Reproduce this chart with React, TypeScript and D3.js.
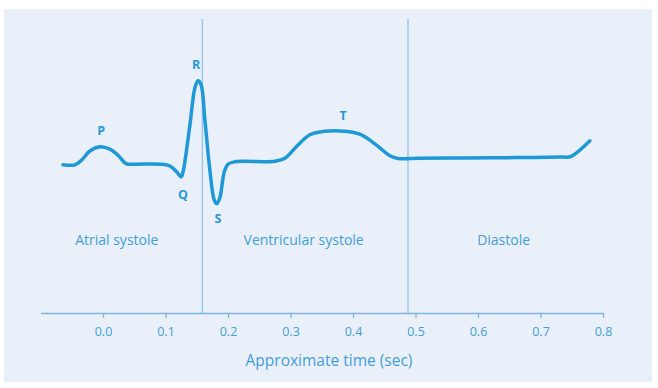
import React, { useEffect, useRef } from "react";
import * as d3 from "d3";

const W = 658;
const H = 388;

// ECG trace: time (sec) and relative amplitude
const times = [
  -0.064, -0.045, -0.034, -0.021, -0.005, 0.011, 0.024, 0.037, 0.051, 0.091,
  0.107, 0.118, 0.125, 0.128, 0.139, 0.147, 0.152, 0.157, 0.163, 0.171,
  0.178, 0.182, 0.187, 0.194, 0.2, 0.211, 0.275, 0.291, 0.312, 0.331,
  0.355, 0.387, 0.411, 0.435, 0.459, 0.472, 0.507, 0.58, 0.66, 0.735,
  0.748, 0.779,
];
const amplitudes = [
  -0.03, -0.03, 0.05, 0.2, 0.27, 0.23, 0.13, -0.01, -0.02, -0.02,
  -0.05, -0.15, -0.23, -0.15, 0.63, 1.25, 1.37, 1.3, 0.72, -0.12,
  -0.62, -0.68, -0.58, -0.15, -0.02, 0.02, 0.03, 0.08, 0.3, 0.47,
  0.53, 0.53, 0.48, 0.32, 0.12, 0.075, 0.08, 0.085, 0.09, 0.1,
  0.105, 0.37,
];

const waveLabels = ["P", "Q", "R", "S", "T"];
const waveLabelT = [-0.003, 0.128, 0.149, 0.184, 0.384];
const waveLabelV = [0.52, -0.55, 1.62, -0.95, 0.78];

const phaseBounds = [0.159, 0.488];
const phaseLabels = ["Atrial systole", "Ventricular systole", "Diastole"];
const phaseLabelT = [0.022, 0.321, 0.641];

const tickValues = [0, 0.1, 0.2, 0.3, 0.4, 0.5, 0.6, 0.7, 0.8];
const xTitle = "Approximate time (sec)";

const FONT = "'Open Sans', 'DejaVu Sans', sans-serif";
const BLUE = "#2798d9";
const TEXT = "#3f9edb";

export default function App() {
  const axisRef = useRef<SVGGElement>(null);
  const x = d3.scaleLinear().domain([-0.1, 0.8]).range([40.5, 603]);
  const y = d3.scaleLinear().domain([-1, 1.5]).range([223, 73]);
  const axisY = 313;

  const pts = times.map((t, i) => [t, amplitudes[i]] as [number, number]);
  const line = d3
    .line<[number, number]>()
    .x((d) => x(d[0]))
    .y((d) => y(d[1]))
    .curve(d3.curveCatmullRom.alpha(0.5));

  useEffect(() => {
    if (!axisRef.current) return;
    const g = d3.select(axisRef.current);
    g.selectAll("*").remove();
    g.call(
      d3
        .axisBottom(x)
        .tickValues(tickValues)
        .tickFormat(d3.format(".1f"))
        .tickSize(5)
        .tickSizeOuter(0)
    );
    g.select(".domain").attr("stroke", "#7fb4de").attr("stroke-width", 1.5);
    g.selectAll(".tick line").attr("stroke", "#7fb4de").attr("stroke-width", 1.3);
    g.selectAll(".tick text")
      .attr("fill", TEXT)
      .attr("font-size", 12.5)
      .attr("font-family", FONT)
      .attr("dy", "1.2em");
  }, []);

  return (
    <svg
      width={W}
      height={H}
      style={{ position: "absolute", left: 0, top: 0, background: "#ffffff" }}
    >
      <rect x={4} y={9} width={648} height={373} fill="#e9f0f9" />
      {phaseBounds.map((t, i) => (
        <line
          key={i}
          x1={x(t)}
          x2={x(t)}
          y1={19}
          y2={axisY}
          stroke="#9cc6e8"
          strokeWidth={1.5}
        />
      ))}
      <g ref={axisRef} transform={`translate(0,${axisY})`} />
      <path
        d={line(pts) || ""}
        fill="none"
        stroke="#1f98d8"
        strokeWidth={3.5}
        strokeLinecap="round"
        strokeLinejoin="round"
      />
      {waveLabels.map((l, i) => (
        <text
          key={l}
          x={x(waveLabelT[i])}
          y={y(waveLabelV[i])}
          textAnchor="middle"
          dominantBaseline="middle"
          fontFamily={FONT}
          fontWeight="bold"
          fontSize={12.5}
          fill={BLUE}
        >
          {l}
        </text>
      ))}
      {phaseLabels.map((l, i) => (
        <text
          key={l}
          x={x(phaseLabelT[i])}
          y={241}
          textAnchor="middle"
          dominantBaseline="middle"
          fontFamily={FONT}
          fontSize={14}
          fill={TEXT}
        >
          {l}
        </text>
      ))}
      <text
        x={329}
        y={362}
        textAnchor="middle"
        dominantBaseline="middle"
        fontFamily={FONT}
        fontSize={15.5}
        fill={TEXT}
      >
        {xTitle}
      </text>
    </svg>
  );
}
